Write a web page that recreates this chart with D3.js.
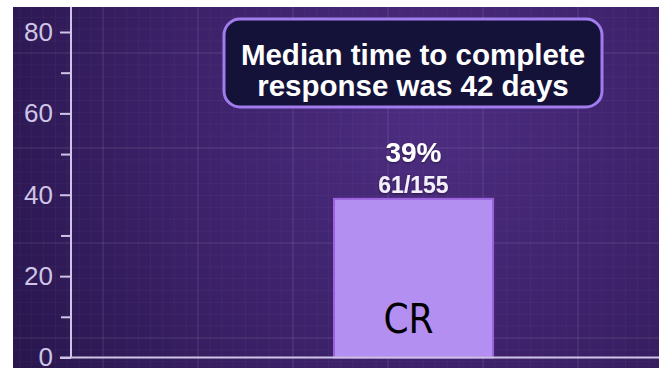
<!DOCTYPE html>
<html>
<head>
<meta charset="utf-8">
<script src="https://cdn.jsdelivr.net/npm/d3@7"></script>
<style>
  html, body { margin: 0; padding: 0; background: #ffffff; }
  svg { display: block; }
</style>
</head>
<body>
<svg id="chart" width="659" height="377"></svg>
<script>
// Response data
const categories = ["CR"];
const percentValues = [39];
const responders = [61];
const patients = [155];
const majorTicks = [0, 20, 40, 60, 80];
const minorTicks = [10, 30, 50, 70];
const calloutLines = ["Median time to complete", "response was 42 days"];

const W = 659, H = 377;
const panel = { x: 13, y: 7, w: 646, h: 361 };
const axisX = 71;

const svg = d3.select("#chart");
const defs = svg.append("defs");

// Purple backdrop glow
const grad = defs.append("radialGradient")
  .attr("id", "bg").attr("gradientUnits", "userSpaceOnUse")
  .attr("cx", 430).attr("cy", 120).attr("r", 480);
grad.append("stop").attr("offset", "0%").attr("stop-color", "#4c2c80");
grad.append("stop").attr("offset", "55%").attr("stop-color", "#3c2169");
grad.append("stop").attr("offset", "100%").attr("stop-color", "#28164d");

svg.append("rect")
  .attr("x", panel.x).attr("y", panel.y)
  .attr("width", panel.w).attr("height", panel.h)
  .attr("fill", "url(#bg)");

// Faint backdrop grid
defs.append("clipPath").attr("id", "panelClip").append("rect")
  .attr("x", panel.x).attr("y", panel.y).attr("width", panel.w).attr("height", panel.h);
const grid = svg.append("g").attr("clip-path", "url(#panelClip)");

const minorStep = 95 / 8;
for (let gx = 8; gx < W; gx += minorStep) {
  grid.append("line").attr("x1", gx).attr("x2", gx).attr("y1", panel.y).attr("y2", panel.y + panel.h)
    .attr("stroke", "#ffffff").attr("stroke-opacity", 0.03).attr("stroke-width", 1);
}
for (let gy = 53 - 95; gy < H; gy += minorStep) {
  grid.append("line").attr("y1", gy).attr("y2", gy).attr("x1", panel.x).attr("x2", panel.x + panel.w)
    .attr("stroke", "#ffffff").attr("stroke-opacity", 0.03).attr("stroke-width", 1);
}
for (let gx = 8; gx < W; gx += 95) {
  grid.append("line").attr("x1", gx).attr("x2", gx).attr("y1", panel.y).attr("y2", panel.y + panel.h)
    .attr("stroke", "#ffffff").attr("stroke-opacity", 0.05).attr("stroke-width", 2);
}
for (let gy = 53 - 95; gy < H; gy += 95) {
  grid.append("line").attr("y1", gy).attr("y2", gy).attr("x1", panel.x).attr("x2", panel.x + panel.w)
    .attr("stroke", "#ffffff").attr("stroke-opacity", 0.05).attr("stroke-width", 2);
}

// Scales
const y = d3.scaleLinear().domain([0, 80]).range([357.5, 32]);
const x = d3.scaleBand().domain(categories).range([334, 493]).padding(0);

const axisColor = "#cfc5e6";
const font = "'Liberation Sans', Arial, Helvetica, sans-serif";

// Bar
const bars = svg.append("g");
bars.selectAll("rect").data(categories).join("rect")
  .attr("x", d => x(d))
  .attr("width", x.bandwidth())
  .attr("y", (d, i) => y(percentValues[i]))
  .attr("height", (d, i) => y(0) - y(percentValues[i]))
  .attr("fill", "#b48ff2")
  .attr("stroke", "#9a62dc")
  .attr("stroke-width", 2);

// Category label inside bar
bars.selectAll("text.cat").data(categories).join("text")
  .attr("class", "cat")
  .attr("x", d => x(d) + x.bandwidth() / 2 - 5)
  .attr("y", 333)
  .attr("text-anchor", "middle")
  .attr("font-family", "'Liberation Sans Narrow', 'DejaVu Sans Condensed', sans-serif")
  .attr("font-size", 40)
  .attr("fill", "#000000")
  .text(d => d);

// Value labels above bar
const shadow = defs.append("filter").attr("id", "shadow").attr("x", "-20%").attr("y", "-20%").attr("width", "140%").attr("height", "140%");
shadow.append("feDropShadow").attr("dx", 0).attr("dy", 1).attr("stdDeviation", 1.2)
  .attr("flood-color", "#000000").attr("flood-opacity", 0.45);

bars.selectAll("text.pct").data(categories).join("text")
  .attr("class", "pct")
  .attr("x", d => x(d) + x.bandwidth() / 2)
  .attr("y", 162)
  .attr("text-anchor", "middle")
  .attr("font-family", font).attr("font-weight", "bold")
  .attr("font-size", 28)
  .attr("fill", "#ffffff")
  .attr("filter", "url(#shadow)")
  .text((d, i) => percentValues[i] + "%");

bars.selectAll("text.frac").data(categories).join("text")
  .attr("class", "frac")
  .attr("x", d => x(d) + x.bandwidth() / 2)
  .attr("y", 193)
  .attr("text-anchor", "middle")
  .attr("font-family", font).attr("font-weight", 600)
  .attr("font-size", 23)
  .attr("fill", "#f4f0fb")
  .attr("filter", "url(#shadow)")
  .text((d, i) => responders[i] + "/" + patients[i]);

// Y axis
const yAxis = svg.append("g").attr("transform", `translate(${axisX},0)`);
yAxis.call(d3.axisLeft(y).tickValues(majorTicks).tickSize(11).tickPadding(7).tickFormat(d3.format("d")));
yAxis.append("g").call(d3.axisLeft(y).tickValues(minorTicks).tickSize(10).tickFormat(""));
yAxis.selectAll(".domain").remove();
yAxis.selectAll("line").attr("stroke", axisColor).attr("stroke-width", 2);
yAxis.selectAll("text")
  .attr("fill", axisColor)
  .attr("font-family", font)
  .attr("font-size", 26);

// Axis lines
svg.append("line")
  .attr("x1", axisX).attr("x2", axisX)
  .attr("y1", panel.y).attr("y2", y(0))
  .attr("stroke", axisColor).attr("stroke-width", 2);
svg.append("line")
  .attr("x1", axisX - 11).attr("x2", W)
  .attr("y1", y(0)).attr("y2", y(0))
  .attr("stroke", axisColor).attr("stroke-width", 2);

// Callout box
const callout = svg.append("g");
callout.append("rect")
  .attr("x", 224).attr("y", 19)
  .attr("width", 378).attr("height", 88)
  .attr("rx", 16).attr("ry", 16)
  .attr("fill", "#15123a")
  .attr("stroke", "#a07ced")
  .attr("stroke-width", 3);
callout.selectAll("text").data(calloutLines).join("text")
  .attr("x", 413)
  .attr("y", (d, i) => 65 + i * 30.5)
  .attr("text-anchor", "middle")
  .attr("font-family", font).attr("font-weight", "bold")
  .attr("font-size", 29.5)
  .attr("fill", "#ffffff")
  .text(d => d);
</script>
</body>
</html>
